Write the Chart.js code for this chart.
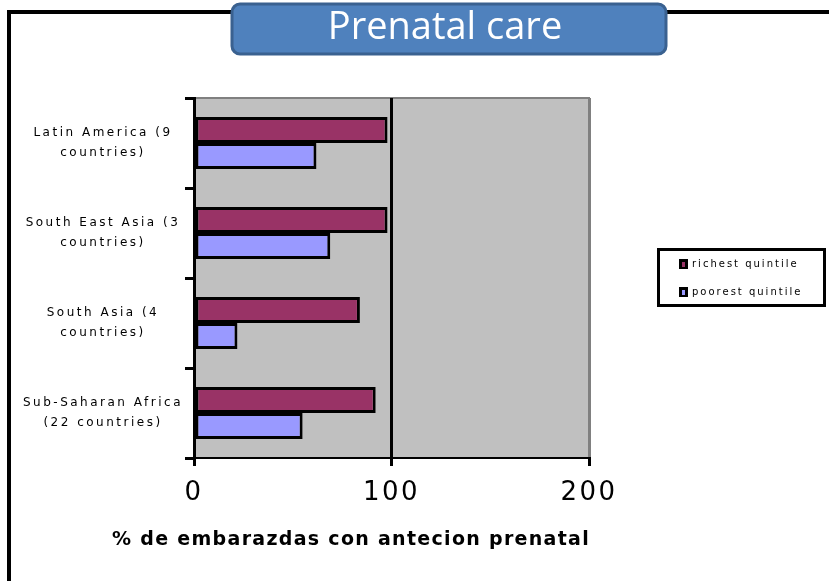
<!DOCTYPE html>
<html>
<head>
<meta charset="utf-8">
<script src="https://cdn.jsdelivr.net/npm/chart.js@4.4.1/dist/chart.umd.min.js"></script>
<style>
  html, body { margin: 0; padding: 0; background: #fff; overflow: hidden; }
</style>
</head>
<body>
<canvas id="grafico-prenatal" width="829" height="581"></canvas>
<script>
// Datos
const regiones = [
  ["Latin America (9", "countries)"],
  ["South East Asia (3", "countries)"],
  ["South Asia (4", "countries)"],
  ["Sub-Saharan Africa", "(22 countries)"]
];
const quintilRico = [98, 98, 84, 92];
const quintilPobre = [62, 69, 22, 55];
const ticksX = [0, 100, 200];
const nombresSerie = ["richest quintile", "poorest quintile"];
const coloresSerie = ["#993366", "#9999ff"];
const tituloGrafico = "Prenatal care";
const tituloEjeX = "% de embarazdas con antecion prenatal";

// el texto del original es muy espaciado
function fijarEspaciado(chart) {
  chart.ctx.letterSpacing = "2.5px";
}

const marco = {
  id: "marco",
  beforeLayout: fijarEspaciado,
  beforeDraw(chart) {
    fijarEspaciado(chart);
    const { ctx, chartArea: a } = chart;
    ctx.save();
    ctx.fillStyle = "#c0c0c0";
    ctx.fillRect(a.left, a.top, a.right - a.left, a.bottom - a.top);
    ctx.strokeStyle = "#808080";
    ctx.lineWidth = 2;
    ctx.beginPath();
    ctx.moveTo(a.left, a.top);
    ctx.lineTo(a.right, a.top);
    ctx.lineTo(a.right, a.bottom);
    ctx.stroke();
    ctx.restore();
  },
  afterDraw(chart) {
    const ctx = chart.ctx;
    const a = chart.chartArea;
    ctx.save();

    // marco exterior
    ctx.strokeStyle = "#000";
    ctx.lineWidth = 4;
    ctx.beginPath();
    ctx.moveTo(9, 581);
    ctx.lineTo(9, 12);
    ctx.lineTo(829, 12);
    ctx.stroke();

    // caja del titulo
    ctx.beginPath();
    ctx.roundRect(232, 4, 434, 50, 8);
    ctx.fillStyle = "#4f81bd";
    ctx.fill();
    ctx.lineWidth = 3;
    ctx.strokeStyle = "#3a6190";
    ctx.stroke();
    ctx.letterSpacing = "0px";
    ctx.fillStyle = "#fff";
    ctx.font = "38px 'Open Sans'";
    ctx.textAlign = "center";
    ctx.textBaseline = "alphabetic";
    ctx.fillText(tituloGrafico, 445, 39);

    // titulo del eje x (el de Chart.js se comprime al ancho del area)
    ctx.letterSpacing = "1.3px";
    ctx.fillStyle = "#000";
    ctx.font = "bold 19px 'DejaVu Sans'";
    ctx.textAlign = "right";
    ctx.textBaseline = "middle";
    ctx.fillText(tituloEjeX, a.right + 1, 540);

    // leyenda
    ctx.strokeStyle = "#000";
    ctx.lineWidth = 3;
    ctx.strokeRect(658.5, 249.5, 166, 56);
    ctx.letterSpacing = "2px";
    ctx.font = "10px 'DejaVu Sans'";
    ctx.textAlign = "left";
    ctx.textBaseline = "middle";
    chart.data.datasets.forEach((d, i) => {
      const y = 264 + i * 28;
      ctx.fillStyle = "#000";
      ctx.fillRect(679, y - 5, 9, 10);
      ctx.fillStyle = d.backgroundColor;
      ctx.fillRect(682, y - 2, 3, 5);
      ctx.fillStyle = "#000";
      ctx.fillText(d.label, 692, y);
    });
    ctx.restore();
  }
};

Chart.defaults.font.family = "'DejaVu Sans'";
Chart.defaults.color = "#000";

const ctx = document.getElementById("grafico-prenatal").getContext("2d");
const grafico = new Chart(ctx, {
  type: "bar",
  data: {
    labels: regiones,
    datasets: [
      {
        label: nombresSerie[0],
        data: quintilRico,
        backgroundColor: coloresSerie[0],
        borderColor: "#000",
        borderWidth: 3,
        borderSkipped: false
      },
      {
        label: nombresSerie[1],
        data: quintilPobre,
        backgroundColor: coloresSerie[1],
        borderColor: "#000",
        borderWidth: 3,
        borderSkipped: false
      }
    ]
  },
  options: {
    indexAxis: "y",
    responsive: false,
    animation: false,
    categoryPercentage: 0.58,
    barPercentage: 1,
    layout: { padding: { top: 98, right: 240, left: 0, bottom: 0 } },
    plugins: {
      legend: { display: false },
      tooltip: { enabled: false }
    },
    scales: {
      x: {
        min: ticksX[0],
        max: ticksX[ticksX.length - 1],
        afterBuildTicks: s => { s.ticks = ticksX.map(v => ({ value: v })); },
        afterFit: s => { s.height = 123; },
        grid: {
          color: c => (c.tick && c.tick.value === 200 ? "#808080" : "#000"),
          tickColor: "#000",
          lineWidth: 3,
          tickLength: 8
        },
        border: { display: true, color: "#000", width: 2 },
        ticks: {
          font: { size: 26 },
          padding: 12,
          maxRotation: 0
        },
        title: { display: false }
      },
      y: {
        afterFit: s => { s.width = 194; },
        grid: {
          drawOnChartArea: false,
          tickColor: "#000",
          lineWidth: 3,
          tickLength: 9
        },
        border: { display: true, color: "#000", width: 3 },
        ticks: {
          crossAlign: "center",
          padding: 2,
          font: { size: 12, lineHeight: 1.65 }
        }
      }
    }
  },
  plugins: [marco]
});
</script>
</body>
</html>
